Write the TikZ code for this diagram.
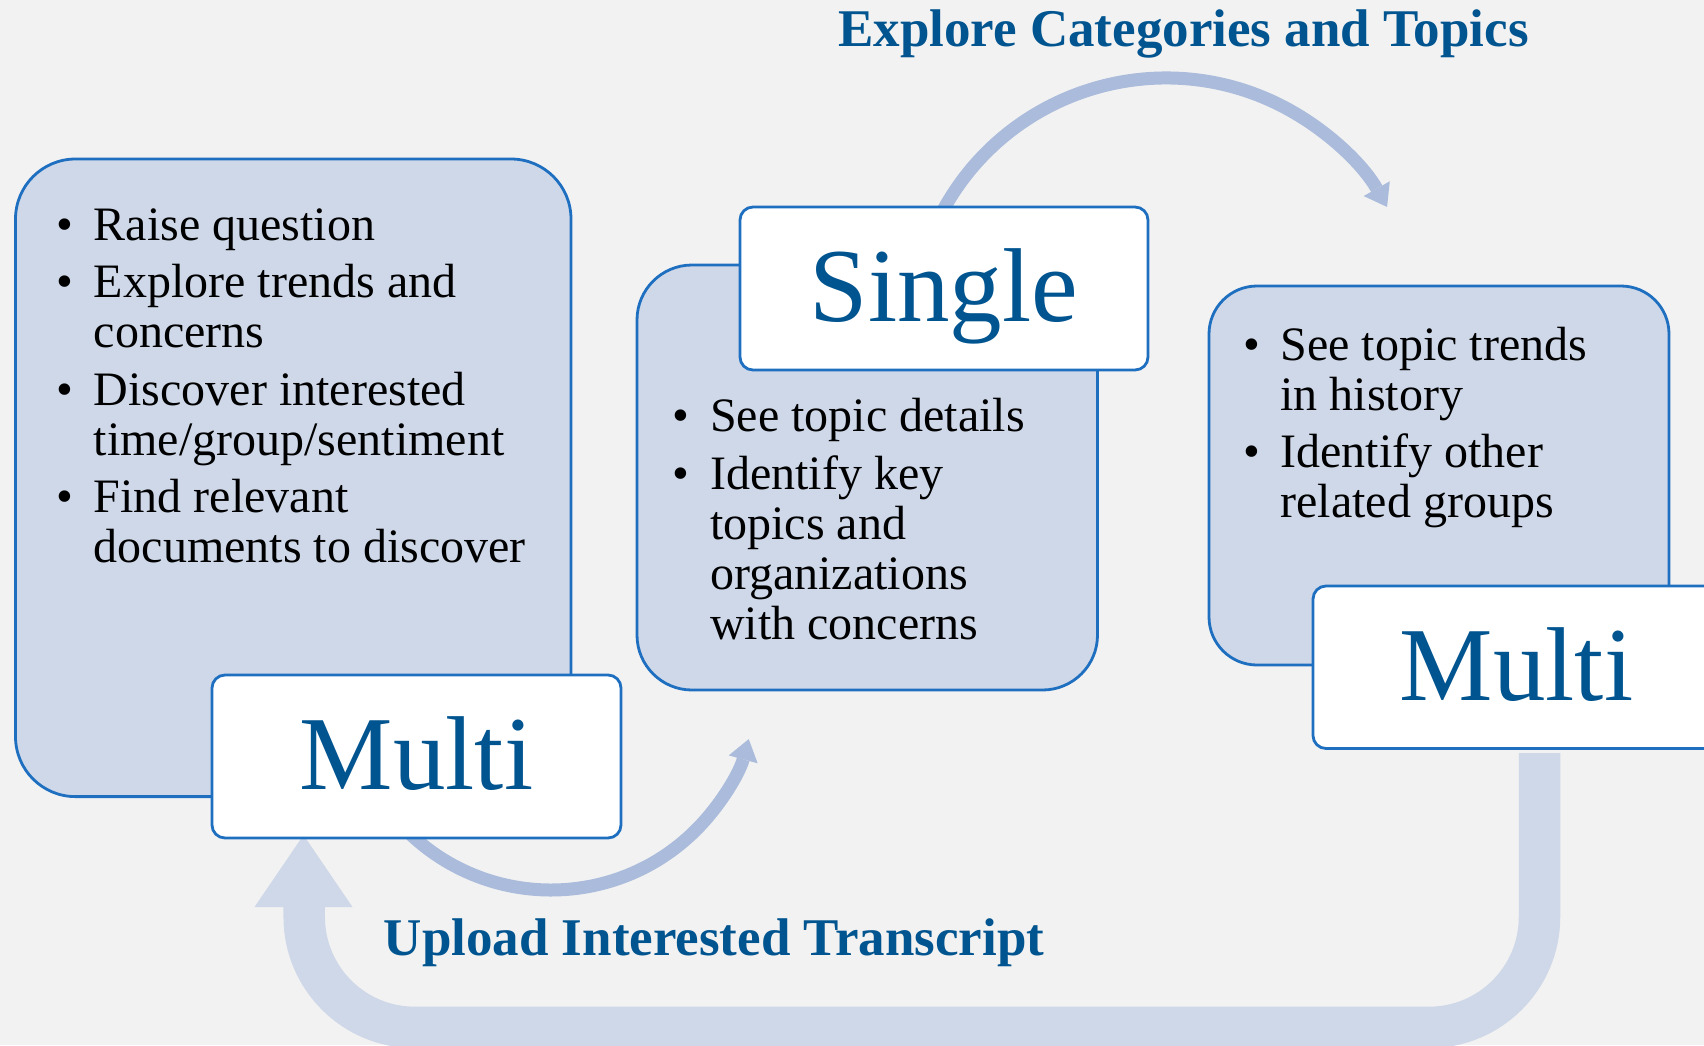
\documentclass[tikz,border=0pt]{standalone}
\usepackage{fontspec}
\setmainfont{Liberation Serif}
\usetikzlibrary{arrows.meta}
\definecolor{bg}{HTML}{F2F2F2}
\definecolor{boxfill}{HTML}{CED8E9}
\definecolor{boxline}{HTML}{1F6FC0}
\definecolor{titleblue}{HTML}{00548F}
\definecolor{arcblue}{HTML}{ABBBDB}
\definecolor{ublue}{HTML}{CFD8E8}
\begin{document}
\begin{tikzpicture}[x=1pt,y=-1pt,
  bigbox/.style={draw=boxline, line width=2.8pt, fill=boxfill, rectangle, inner sep=0pt},
  labelbox/.style={draw=boxline, line width=2.8pt, fill=white, rectangle, rounded corners=13pt, inner sep=0pt, minimum width=408pt, minimum height=163pt},
  bigword/.style={text=titleblue, font=\fontsize{105}{110}\selectfont, inner sep=0pt, anchor=base},
  itemtext/.style={font=\fontsize{48}{50}\selectfont, inner sep=0pt, anchor=base west, text=black},
  heading/.style={text=titleblue, font=\bfseries\fontsize{53}{60}\selectfont, inner sep=0pt, anchor=base},
  arcarrow/.style={draw=arcblue, line width=13pt, -{Triangle[length=21pt,width=30pt,line width=0pt]}},
  ushaft/.style={draw=ublue, line width=41.5pt, rounded corners=110.5pt},
  uhead/.style={fill=ublue}
]
% background and frame
\fill[bg] (0,0) rectangle (1704,1045);
\useasboundingbox (0,0) rectangle (1704,1045);
\clip (0,0) rectangle (1704,1045);

% big U-shaped return arrow
\coordinate (ustart) at (1539.5,753);
\coordinate (ubr) at (1539.5,1027.4);
\coordinate (ubl) at (304.2,1027.4);
\coordinate (uhb) at (304.2,906);
\coordinate (uhl) at (254.5,907);
\coordinate (utip) at (303.5,835);
\coordinate (uhr) at (352.5,907);
\draw[ushaft] (ustart) -- (ubr) -- (ubl) -- (uhb);
\fill[uhead] (uhl) -- (utip) -- (uhr) -- cycle;

% curved arrows
\coordinate (topc) at (1166,332);
\coordinate (lowc) at (551,685);
\draw[arcarrow] (topc) ++(208:254) arc[start angle=208, end angle=330.5, radius=254];
\draw[arcarrow] (lowc) ++(134:205) arc[start angle=134, end angle=15.3, radius=205];

% light blue boxes
\node[bigbox, rounded corners=60pt, minimum width=555.5pt, minimum height=637.6pt] (leftbox) at (293.25,477.8) {};
\node[bigbox, rounded corners=55pt, minimum width=460.5pt, minimum height=425pt] (midbox) at (867.25,477.5) {};
\node[bigbox, rounded corners=48pt, minimum width=460pt, minimum height=379pt] (rightbox) at (1439,475.5) {};

% white label boxes
\node[labelbox, minimum width=409pt] (multiL) at (416.5,756.5) {};
\node[labelbox] (single) at (944,288.5) {};
\node[labelbox, minimum width=407pt, minimum height=162.5pt] (multiR) at (1516.5,667.25) {};

\node[bigword] (multiLtext) at (416.5,789) {Multi};
\node[bigword] (singletext) at (944,321) {Single};
\node[bigword] (multiRtext) at (1516.5,700) {Multi};

% bullet lists
\node[itemtext] (leftlist) at (56.6,240) {\begin{tabular}[t]{@{}l@{}l@{}}
\makebox[37pt][l]{\textbullet} & Raise question\\[7.5pt]
\textbullet & Explore trends and\\
 & concerns\\[7.5pt]
\textbullet & Discover interested\\
 & time/group/sentiment\\[7.5pt]
\textbullet & Find relevant\\
 & documents to discover
\end{tabular}};

\node[itemtext] (midlist) at (672.6,431.6) {\begin{tabular}[t]{@{}l@{}l@{}}
\makebox[37.4pt][l]{\textbullet} & See topic details\\[7.5pt]
\textbullet & Identify key\\
 & topics and\\
 & organizations\\
 & with concerns
\end{tabular}};

\node[itemtext] (rightlist) at (1243.6,360) {\begin{tabular}[t]{@{}l@{}l@{}}
\makebox[36.7pt][l]{\textbullet} & See topic trends\\
 & in history\\[7.5pt]
\textbullet & Identify other\\
 & related groups
\end{tabular}};

% headings
\node[heading] (explore) at (1183.5,46) {Explore Categories and Topics};
\node[heading] (upload) at (714,955) {Upload Interested Transcript};
\end{tikzpicture}
\end{document}
